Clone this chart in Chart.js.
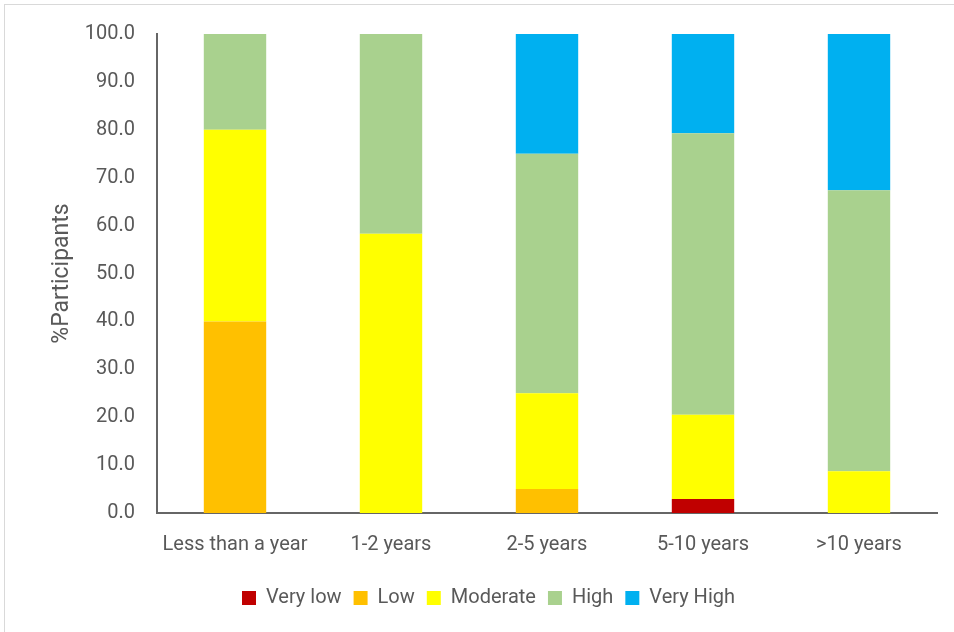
<!DOCTYPE html>
<html>
<head>
<meta charset="utf-8">
<script src="https://cdn.jsdelivr.net/npm/chart.js@4"></script>
<style>
  html, body { margin: 0; padding: 0; background: #fff; }
  #wrap { position: relative; width: 954px; height: 632px; overflow: hidden; }
  #frame { position: absolute; left: 4px; top: 4px; width: 960px; height: 640px; border: 1px solid #d9d9d9; pointer-events: none; }
</style>
</head>
<body>
<div id="wrap">
  <canvas id="myChart" width="954" height="632"></canvas>
  <div id="frame"></div>
</div>
<script>
  // categories and series (% of participants)
  const categories = ['Less than a year', '1-2 years', '2-5 years', '5-10 years', '>10 years']
  const veryLow  = [0, 0, 0, 2.9, 0]
  const low      = [40, 0, 5, 0, 0]
  const moderate = [40, 58.3, 20, 17.6, 8.7]
  const high     = [20, 41.7, 50, 58.8, 58.7]
  const veryHigh = [0, 0, 25, 20.7, 32.6]

  const textColor = '#595959'
  const font = { family: 'Roboto', size: 20 }

  const ctx = document.getElementById('myChart')
  const myChart = new Chart(ctx, {
    type: 'bar',
    data: {
      labels: categories,
      datasets: [
        { label: 'Very low', data: veryLow, backgroundColor: '#C00000' },
        { label: 'Low', data: low, backgroundColor: '#FFC000' },
        { label: 'Moderate', data: moderate, backgroundColor: '#FFFF00' },
        { label: 'High', data: high, backgroundColor: '#A9D18E' },
        { label: 'Very High', data: veryHigh, backgroundColor: '#00B0F0' }
      ]
    },
    options: {
      responsive: false,
      animation: false,
      devicePixelRatio: 1,
      layout: { padding: { top: 23, right: 17, bottom: 14, left: 40 } },
      datasets: { bar: { categoryPercentage: 1, barPercentage: 0.4 } },
      scales: {
        x: {
          stacked: true,
          grid: { display: false, drawTicks: false },
          border: { color: '#666', width: 2 },
          ticks: { color: textColor, font: font, padding: 20, maxRotation: 0, autoSkip: false },
          afterFit: s => { s.height = 63 }
        },
        y: {
          stacked: true,
          min: 0,
          max: 100,
          grid: { display: false, drawTicks: false },
          border: { color: '#666', width: 2 },
          ticks: {
            stepSize: 10,
            color: textColor,
            font: font,
            padding: 22,
            callback: v => v.toFixed(1)
          },
          title: {
            display: true,
            text: '%Participants',
            color: textColor,
            font: { family: 'Roboto', size: 23 },
            padding: { top: 8, bottom: 0 }
          },
          afterFit: s => { s.width = 117 }
        }
      },
      plugins: {
        legend: {
          display: true,
          position: 'bottom',
          labels: {
            color: textColor,
            font: font,
            boxWidth: 14,
            boxHeight: 14,
            padding: 12
          }
        },
        tooltip: { enabled: false }
      }
    }
  })
</script>
</body>
</html>
